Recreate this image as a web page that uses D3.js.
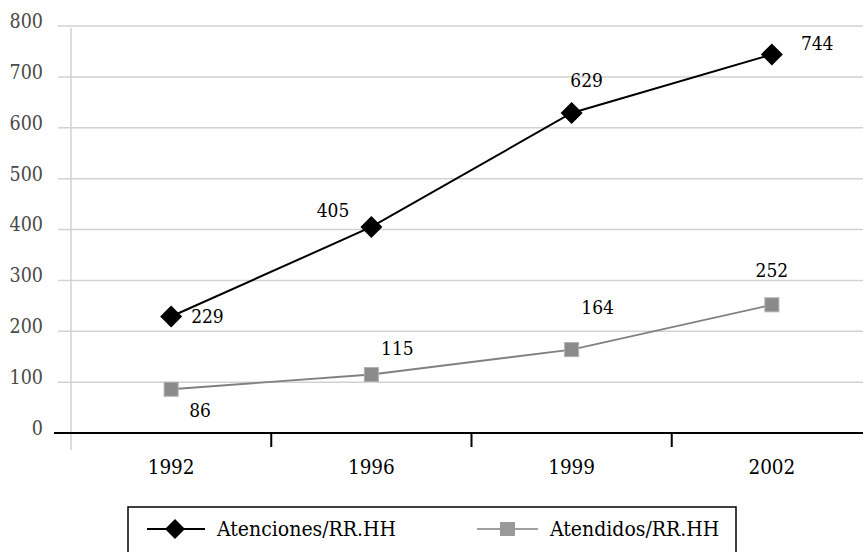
<!DOCTYPE html>
<html><head><meta charset="utf-8">
<script src="https://cdn.jsdelivr.net/npm/d3@7"></script>
<style>body{margin:0;background:#fff}svg{display:block}</style>
</head><body>
<svg id="c" width="863" height="552"></svg>
<script>
const categories = ["1992","1996","1999","2002"];
const atenciones = [229,405,629,744];
const atendidos = [86,115,164,252];
const yTicks = [0,100,200,300,400,500,600,700,800];
const seriesNames = ["Atenciones/RR.HH","Atendidos/RR.HH"];

const svg = d3.select("#c");
const FONT = "'DejaVu Serif Condensed','DejaVu Serif',serif";
const x = d3.scaleBand().domain(categories).range([71,872]);
const y = d3.scaleLinear().domain([0,800]).range([433,26]);

// gridlines
svg.append("g").selectAll("line").data(yTicks.slice(1)).join("line")
  .attr("x1",58).attr("x2",863).attr("y1",d=>y(d)).attr("y2",d=>y(d))
  .attr("stroke","#d2d2d2").attr("stroke-width",1.5);
// left vertical line
svg.append("line").attr("x1",71).attr("x2",71).attr("y1",y(800)+2).attr("y2",450)
  .attr("stroke","#d2d2d2").attr("stroke-width",1.5);
// y labels
svg.append("g").selectAll("text").data(yTicks).join("text")
  .attr("x",43).attr("y",d=>y(d)).attr("dy","0.1em").attr("text-anchor","end")
  .attr("font-family",FONT).attr("font-size",19.5).attr("fill","#4a4a4a").text(d=>d);
// x axis
svg.append("line").attr("x1",54).attr("x2",863).attr("y1",y(0)).attr("y2",y(0))
  .attr("stroke","#000").attr("stroke-width",2);
svg.append("g").selectAll("line").data(categories.slice(1)).join("line")
  .attr("x1",d=>x(d)).attr("x2",d=>x(d)).attr("y1",y(0)).attr("y2",447)
  .attr("stroke","#000").attr("stroke-width",2);
svg.append("g").selectAll("text").data(categories).join("text")
  .attr("x",d=>x(d)+x.bandwidth()/2).attr("y",467).attr("dy","0.35em").attr("text-anchor","middle")
  .attr("font-family",FONT).attr("font-size",20.5).attr("fill","#000").text(d=>d);

const cx = d=>x(d)+x.bandwidth()/2;
const line = d3.line().x(d=>cx(d[0])).y(d=>y(d[1]));
const dA = categories.map((c,i)=>[c,atenciones[i]]);
const dB = categories.map((c,i)=>[c,atendidos[i]]);

svg.append("path").attr("d",line(dB)).attr("fill","none").attr("stroke","#808080").attr("stroke-width",1.8);
svg.append("path").attr("d",line(dA)).attr("fill","none").attr("stroke","#000").attr("stroke-width",2);

const diamond = (g,px,py,r)=>g.append("path")
  .attr("d",`M${px},${py-r}L${px+r},${py}L${px},${py+r}L${px-r},${py}Z`).attr("fill","#000");
const square = (g,px,py,s)=>g.append("rect").attr("x",px-s/2).attr("y",py-s/2).attr("width",s).attr("height",s)
  .attr("fill","#8a8a8a").attr("stroke","#b0b0b0").attr("stroke-width",1);

const gm = svg.append("g");
dB.forEach(d=>square(gm,cx(d[0]),y(d[1]),14));
dA.forEach(d=>diamond(gm,cx(d[0]),y(d[1]),11));

// data labels
const offA = [[20,0,"start"],[-22,-17,"end"],[15,-33,"middle"],[29,-11,"start"]];
const offB = [[29,21,"middle"],[26,-26,"middle"],[26,-42,"middle"],[0,-34,"middle"]];
const lab = svg.append("g").attr("font-family",FONT).attr("font-size",19).attr("fill","#000");
dA.forEach((d,i)=>lab.append("text").attr("x",cx(d[0])+offA[i][0]).attr("y",y(d[1])+offA[i][1])
  .attr("dy","0.35em").attr("text-anchor",offA[i][2]).text(d[1]));
dB.forEach((d,i)=>lab.append("text").attr("x",cx(d[0])+offB[i][0]).attr("y",y(d[1])+offB[i][1])
  .attr("dy","0.35em").attr("text-anchor",offB[i][2]).text(d[1]));

// legend
const lg = svg.append("g");
lg.append("rect").attr("x",128).attr("y",507).attr("width",608).attr("height",50)
  .attr("fill","#fff").attr("stroke","#000").attr("stroke-width",1.5);
lg.append("line").attr("x1",147).attr("x2",205).attr("y1",529).attr("y2",529).attr("stroke","#000").attr("stroke-width",2);
diamond(lg,175,529,10);
lg.append("text").attr("x",217).attr("y",529).attr("dy","0.35em").attr("font-family",FONT).attr("font-size",21).attr("fill","#000").text(seriesNames[0]);
lg.append("line").attr("x1",477).attr("x2",538).attr("y1",529).attr("y2",529).attr("stroke","#a0a0a0").attr("stroke-width",2);
lg.append("rect").attr("x",500).attr("y",522).attr("width",15).attr("height",14).attr("fill","#999");
lg.append("text").attr("x",550).attr("y",529).attr("dy","0.35em").attr("font-family",FONT).attr("font-size",21).attr("fill","#000").text(seriesNames[1]);
</script>
</body></html>
